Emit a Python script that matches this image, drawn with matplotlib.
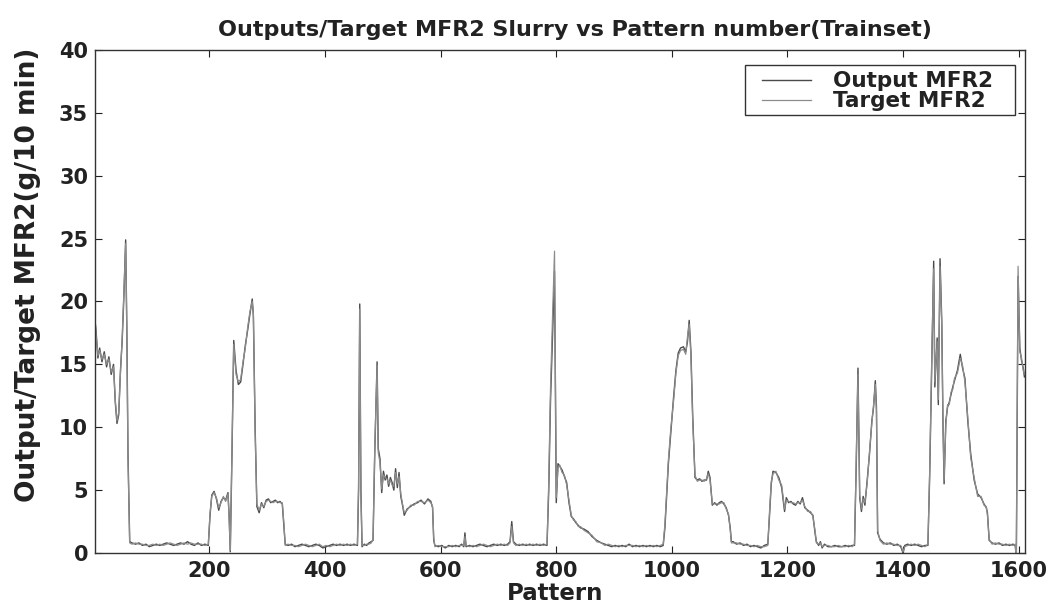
import matplotlib
matplotlib.use("Agg")
import matplotlib.pyplot as plt
from matplotlib.patches import Rectangle

# pattern index and MFR2 values (g/10 min) for the training set
pattern = [
    1, 4, 7, 10, 14, 18, 22, 26, 30, 34, 37, 40, 43, 46, 49, 52, 55, 57, 59, 62,
    66, 72, 78, 84, 90, 96, 102, 108, 114, 120, 126, 132, 138, 144, 150, 156, 162, 168, 174, 180, 186, 192, 198,
    201, 204, 208, 212, 216, 220, 224, 228, 232, 234, 236,
    239, 242, 246, 250, 254, 258, 262, 266, 270, 274, 276, 279, 282, 286, 290, 294, 298, 302, 306, 310, 314, 318, 322, 326, 329, 331,
    336, 342, 348, 354, 360, 366, 372, 378, 384, 390, 396, 402, 408, 414, 420, 426, 432, 438, 444, 450, 456,
    458, 460, 462, 464, 468, 472, 476, 480, 483,
    486, 490, 492, 495, 498, 501, 504, 507, 510, 513, 516, 519, 522, 525, 528, 531, 534, 537, 542, 548, 554, 560, 566, 572, 578, 583, 586, 588, 590,
    596, 602, 608, 614, 620, 626, 632, 636, 640, 642, 644, 650, 656, 662, 668, 674, 680, 686, 692, 698, 704, 710, 716, 720, 723, 726, 730, 736, 742, 748, 754, 760, 766, 772, 778, 784,
    787, 790, 794, 797, 800, 803, 806, 810, 814, 818, 822, 826, 830, 834, 838, 842, 848, 855, 862, 870, 878, 884, 890, 896, 902, 908, 914, 920, 926, 932, 938, 944, 950, 956, 962, 968, 974, 980,
    985, 988, 991, 994, 998, 1003, 1007, 1011, 1015, 1020, 1024, 1027, 1030, 1033, 1036, 1040, 1044, 1048, 1052, 1056, 1060, 1063, 1066, 1070, 1074, 1078, 1082, 1086, 1090, 1094, 1098, 1101, 1103,
    1106, 1112, 1118, 1124, 1130, 1136, 1142, 1148, 1154, 1160, 1166,
    1169, 1172, 1175, 1180, 1185, 1190, 1195, 1198, 1202, 1206, 1210, 1214, 1218, 1222, 1226, 1230, 1235, 1240, 1244, 1248, 1250, 1254, 1257, 1260, 1264, 1270, 1276, 1282, 1288, 1294, 1300, 1306, 1312, 1316,
    1319, 1322, 1325, 1328, 1331, 1334, 1338, 1342, 1346, 1349, 1352, 1354, 1356, 1360,
    1366, 1372, 1378, 1384, 1390, 1396, 1400, 1403, 1408, 1414, 1420, 1426, 1432, 1438, 1443,
    1446, 1450, 1453, 1455, 1459, 1461, 1464, 1467, 1469, 1471, 1474, 1477, 1480, 1483, 1486, 1489, 1494, 1499, 1503, 1507, 1512, 1517, 1523, 1529, 1535, 1540, 1544, 1546, 1549,
    1554, 1560, 1566, 1572, 1578, 1584, 1590, 1594,
    1596, 1599, 1602, 1605, 1608, 1610,
]

output_mfr2 = [
    19.0, 17.5, 15.5, 16.3, 15.2, 16.0, 14.8, 15.6, 14.2, 15.0, 12.0, 10.3, 11.0, 14.5, 16.9, 20.5, 24.9, 18.0, 8.0, 0.9,
    0.8, 0.7, 0.8, 0.6, 0.7, 0.5, 0.6, 0.7, 0.6, 0.7, 0.8, 0.7, 0.6, 0.7, 0.8, 0.7, 0.9, 0.7, 0.6, 0.8, 0.6, 0.7, 0.6,
    3.0, 4.6, 4.9, 4.3, 3.4, 4.1, 4.4, 4.2, 4.8, 3.0, 0.1,
    8.0, 16.9, 14.5, 13.4, 13.6, 15.0, 16.5, 17.7, 19.0, 20.2, 18.8, 10.0, 3.7, 3.2, 4.0, 3.6, 4.2, 4.3, 4.0, 4.1, 4.2, 4.0, 4.1, 3.9, 2.0, 0.7,
    0.6, 0.7, 0.5, 0.6, 0.7, 0.6, 0.5, 0.6, 0.7, 0.6, 0.4, 0.5, 0.6, 0.7, 0.6, 0.7, 0.6, 0.7, 0.6, 0.7, 0.6,
    5.0, 19.8, 5.0, 0.5, 0.7, 0.6, 0.8, 0.9, 1.0,
    8.0, 15.2, 8.3, 7.5, 4.8, 6.5, 5.8, 6.2, 5.3, 6.0, 5.6, 5.0, 6.7, 5.2, 6.4, 4.5, 3.8, 3.0, 3.5, 3.7, 3.9, 4.0, 4.2, 3.9, 4.3, 4.1, 3.6, 1.0, 0.6,
    0.5, 0.6, 0.4, 0.6, 0.5, 0.6, 0.5, 0.7, 0.5, 1.6, 0.5, 0.6, 0.5, 0.6, 0.7, 0.6, 0.5, 0.6, 0.7, 0.6, 0.7, 0.6, 0.7, 0.9, 2.5, 0.9, 0.7, 0.6, 0.7, 0.6, 0.7, 0.6, 0.7, 0.6, 0.7, 0.6,
    5.0, 12.0, 18.0, 22.4, 4.0, 7.1, 6.9, 6.6, 6.1, 5.6, 4.0, 2.9, 2.7, 2.4, 2.2, 2.0, 1.9, 1.7, 1.3, 1.0, 0.8, 0.7, 0.6, 0.5, 0.6, 0.5, 0.6, 0.5, 0.7, 0.5, 0.6, 0.5, 0.6, 0.5, 0.6, 0.5, 0.6, 0.5,
    0.6, 2.0, 4.5, 7.1, 9.5, 12.4, 14.5, 15.9, 16.3, 16.4, 16.0, 16.8, 18.5, 16.0, 11.0, 6.0, 5.8, 5.9, 5.7, 5.8, 5.8, 6.5, 6.0, 3.8, 4.0, 3.8, 4.0, 4.1, 3.9, 3.6, 3.0, 2.0, 0.9,
    0.9, 0.7, 0.8, 0.6, 0.7, 0.5, 0.6, 0.5, 0.4, 0.6, 0.7,
    3.0, 5.5, 6.5, 6.4, 6.0, 5.2, 3.3, 4.4, 4.0, 4.1, 3.9, 3.8, 4.1, 3.9, 4.4, 3.6, 3.4, 3.2, 3.0, 1.5, 0.9, 0.6, 0.9, 0.4, 0.7, 0.5, 0.5, 0.6, 0.5, 0.5, 0.6, 0.5, 0.6, 0.6,
    7.0, 14.7, 4.4, 3.3, 4.5, 3.8, 5.8, 7.9, 10.5, 11.6, 13.7, 11.6, 1.6, 1.1,
    0.8, 0.7, 0.8, 0.6, 0.7, 0.5, 0.0, 0.6, 0.7, 0.6, 0.7, 0.6, 0.5, 0.6, 0.6,
    6.0, 16.0, 23.2, 13.2, 17.1, 11.8, 23.4, 18.4, 10.5, 5.5, 10.5, 11.6, 12.0, 12.6, 13.2, 13.7, 14.5, 15.8, 14.7, 13.9, 10.5, 7.9, 5.8, 4.7, 4.4, 3.9, 3.6, 3.2, 1.0,
    0.8, 0.7, 0.8, 0.6, 0.7, 0.6, 0.7, 0.6,
    -0.3, 22.0, 16.3, 15.3, 14.7, 14.0,
]

target_mfr2 = [
    19.2, 17.3, 15.7, 16.1, 15.4, 15.8, 15.0, 15.4, 14.4, 14.8, 12.2, 10.5, 11.2, 14.3, 17.1, 20.8, 24.6, 17.6, 7.6, 0.8,
    0.7, 0.8, 0.7, 0.7, 0.6, 0.6, 0.7, 0.6, 0.7, 0.6, 0.7, 0.8, 0.7, 0.6, 0.7, 0.8, 0.7, 0.8, 0.7, 0.7, 0.7, 0.6, 0.7,
    3.2, 4.5, 4.8, 4.4, 3.6, 4.0, 4.5, 4.1, 4.7, 2.8, 0.2,
    8.4, 16.6, 14.2, 13.6, 13.8, 15.2, 16.3, 17.9, 19.2, 20.0, 19.0, 9.6, 3.9, 3.4, 3.9, 3.7, 4.1, 4.2, 4.1, 4.0, 4.1, 4.1, 4.0, 4.0, 2.2, 0.6,
    0.7, 0.6, 0.6, 0.5, 0.6, 0.7, 0.6, 0.5, 0.6, 0.7, 0.5, 0.6, 0.5, 0.6, 0.7, 0.6, 0.7, 0.6, 0.7, 0.6, 0.7,
    5.4, 19.4, 4.6, 0.6, 0.6, 0.7, 0.7, 0.8, 1.1,
    8.4, 14.9, 8.0, 7.2, 5.1, 6.2, 6.0, 5.9, 5.5, 5.8, 5.4, 5.3, 6.4, 5.5, 6.1, 4.7, 3.9, 3.2, 3.4, 3.8, 3.8, 4.1, 4.1, 4.0, 4.2, 4.0, 3.7, 1.2, 0.5,
    0.6, 0.5, 0.5, 0.5, 0.6, 0.5, 0.6, 0.6, 0.6, 1.3, 0.6, 0.5, 0.6, 0.5, 0.6, 0.7, 0.6, 0.5, 0.6, 0.7, 0.6, 0.7, 0.6, 0.8, 2.1, 0.8, 0.6, 0.7, 0.6, 0.7, 0.6, 0.7, 0.6, 0.7, 0.6, 0.7,
    5.6, 13.0, 19.5, 24.0, 4.4, 6.8, 7.0, 6.4, 6.2, 5.4, 4.2, 3.0, 2.6, 2.5, 2.1, 2.1, 1.8, 1.6, 1.4, 0.9, 0.8, 0.6, 0.7, 0.6, 0.5, 0.6, 0.5, 0.6, 0.6, 0.6, 0.5, 0.6, 0.5, 0.6, 0.5, 0.6, 0.5, 0.6,
    0.7, 2.3, 4.8, 7.4, 9.8, 12.1, 14.3, 15.7, 16.1, 16.2, 15.8, 17.2, 18.2, 15.6, 10.6, 6.2, 5.7, 5.8, 5.8, 5.7, 5.9, 6.3, 5.8, 3.9, 3.9, 3.9, 3.9, 4.0, 4.0, 3.5, 3.1, 1.8, 0.8,
    0.8, 0.8, 0.7, 0.7, 0.6, 0.6, 0.5, 0.6, 0.5, 0.5, 0.6,
    3.3, 5.7, 6.3, 6.5, 5.8, 5.4, 3.5, 4.2, 4.1, 4.0, 4.0, 3.9, 4.0, 4.0, 4.2, 3.7, 3.3, 3.3, 2.9, 1.7, 0.8, 0.7, 0.8, 0.5, 0.6, 0.6, 0.5, 0.5, 0.6, 0.5, 0.5, 0.6, 0.5, 0.7,
    7.4, 14.2, 4.6, 3.5, 4.3, 4.0, 5.6, 8.1, 10.3, 11.8, 13.4, 11.2, 1.8, 1.0,
    0.7, 0.8, 0.7, 0.7, 0.6, 0.6, 0.1, 0.5, 0.6, 0.7, 0.6, 0.7, 0.6, 0.5, 0.7,
    6.4, 16.4, 22.6, 13.6, 16.8, 12.2, 22.8, 18.0, 10.8, 5.8, 10.2, 11.8, 11.8, 12.8, 13.0, 13.9, 14.3, 15.5, 14.9, 13.6, 10.8, 7.6, 6.0, 4.5, 4.5, 3.8, 3.7, 3.0, 1.1,
    0.7, 0.8, 0.7, 0.7, 0.6, 0.7, 0.6, 0.7,
    -0.2, 22.8, 16.0, 15.5, 14.5, 14.2,
]

x_ticks = [200, 400, 600, 800, 1000, 1200, 1400, 1600]
y_ticks = [0, 5, 10, 15, 20, 25, 30, 35, 40]

plt.rcParams["font.family"] = ["DejaVu Sans"]
plt.rcParams["font.weight"] = "bold"
TXT = "#222222"

fig = plt.figure(figsize=(10.5, 6.06), dpi=100)
ax = fig.add_axes([0.0905, 0.0875, 0.8857, 0.830])

ax.plot(pattern, output_mfr2, color="#4a4a4a", linewidth=1.0, label="Output MFR2")
ax.plot(pattern, target_mfr2, color="#8c8c8c", linewidth=0.9, label="Target MFR2")

ax.set_xlim(2, 1611)
ax.set_ylim(0, 40)
ax.set_xticks(x_ticks)
ax.set_yticks(y_ticks)
ax.tick_params(direction="in", top=True, right=True, length=5, width=0.8,
               labelsize=15, colors=TXT)
ax.tick_params(axis="x", pad=6)
ax.tick_params(axis="y", pad=5)
for sp in ax.spines.values():
    sp.set_color("#333333")
    sp.set_linewidth(1.0)

ax.set_title("Outputs/Target MFR2 Slurry vs Pattern number(Trainset)",
             fontsize=16, fontweight="bold", color=TXT, x=0.516, pad=10)
ax.set_xlabel("Pattern", fontsize=16.5, fontweight="bold", color=TXT)
ax.xaxis.set_label_coords(0.495, -0.058)
ax.set_ylabel("Output/Target MFR2(g/10 min)", fontsize=19, fontweight="bold", color=TXT)
ax.yaxis.set_label_coords(-0.058, 0.553)

# legend box drawn separately so its padding can follow the handles
ax.add_patch(Rectangle((0.699, 0.871), 0.290, 0.099, transform=ax.transAxes,
                       facecolor="white", edgecolor="#333333", linewidth=1.0, zorder=4))
leg = ax.legend(loc="upper left", bbox_to_anchor=(0.717, 0.958), borderaxespad=0,
                frameon=False, handlelength=2.3, handletextpad=1.0, borderpad=0,
                labelspacing=0.0, prop={"size": 15.5, "weight": "bold"})
leg.set_zorder(5)
for t in leg.get_texts():
    t.set_color(TXT)

fig.savefig("out.png", dpi=100, facecolor="white")
